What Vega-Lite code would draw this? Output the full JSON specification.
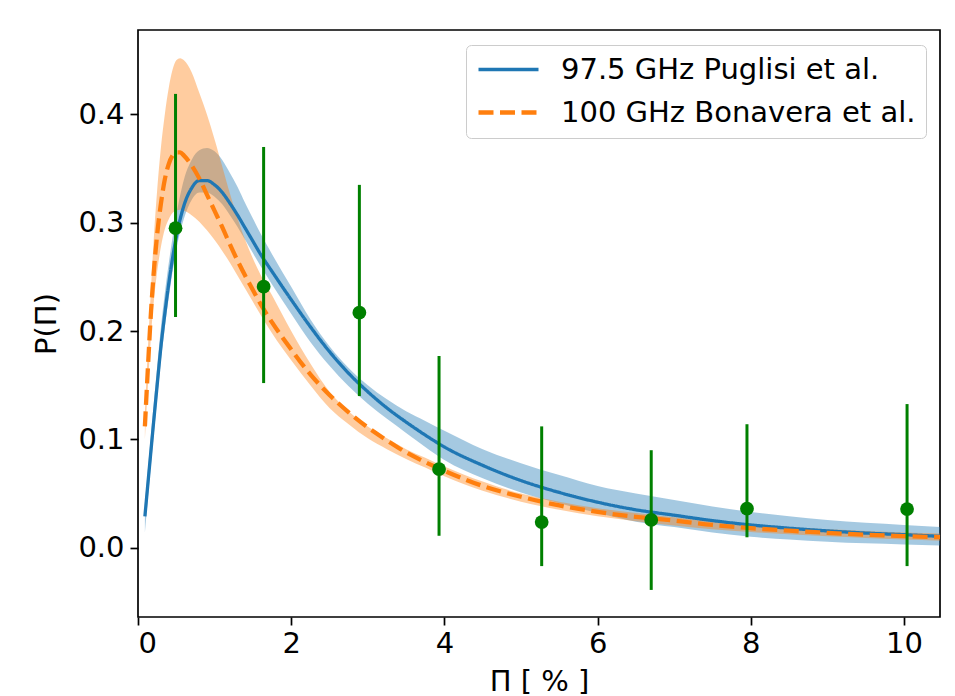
{
  "$schema": "https://vega.github.io/schema/vega-lite/v6.json",
  "width": 802,
  "height": 587,
  "autosize": {"type": "none"},
  "padding": {"left": 138, "top": 30, "right": 15, "bottom": 79},
  "background": "white",
  "config": {
    "font": "DejaVu Sans",
    "view": {"stroke": "black", "strokeWidth": 1.7},
    "axis": {
      "grid": false,
      "domain": false,
      "ticks": true,
      "tickColor": "black",
      "tickWidth": 1.7,
      "tickSize": 8,
      "labelFont": "DejaVu Sans",
      "labelFontSize": 29,
      "labelColor": "black",
      "titleFont": "DejaVu Sans",
      "titleFontSize": 29,
      "titleFontWeight": "normal",
      "titleColor": "black"
    },
    "legend": {
      "orient": "none",
      "legendX": 328,
      "legendY": 15,
      "padding": 10,
      "strokeColor": "#cccccc",
      "cornerRadius": 5,
      "fillColor": "white",
      "labelFont": "DejaVu Sans",
      "labelFontSize": 29,
      "labelColor": "black",
      "labelLimit": 0,
      "symbolType": "stroke",
      "symbolSize": 3600,
      "symbolStrokeWidth": 4,
      "clipHeight": 29,
      "rowPadding": 13,
      "labelOffset": 20,
      "title": null
    }
  },
  "datasets": {
    "curves": [
      {"model": "97.5 GHz Puglisi et al.", "x": 0.09, "y": 0.029, "lo": 0.014, "hi": 0.041},
      {"model": "97.5 GHz Puglisi et al.", "x": 0.15, "y": 0.075, "lo": 0.062, "hi": 0.089},
      {"model": "97.5 GHz Puglisi et al.", "x": 0.2, "y": 0.113, "lo": 0.100, "hi": 0.129},
      {"model": "97.5 GHz Puglisi et al.", "x": 0.25, "y": 0.150, "lo": 0.137, "hi": 0.167},
      {"model": "97.5 GHz Puglisi et al.", "x": 0.3, "y": 0.186, "lo": 0.173, "hi": 0.204},
      {"model": "97.5 GHz Puglisi et al.", "x": 0.35, "y": 0.216, "lo": 0.203, "hi": 0.235},
      {"model": "97.5 GHz Puglisi et al.", "x": 0.4, "y": 0.243, "lo": 0.230, "hi": 0.262},
      {"model": "97.5 GHz Puglisi et al.", "x": 0.5, "y": 0.287, "lo": 0.275, "hi": 0.307},
      {"model": "97.5 GHz Puglisi et al.", "x": 0.6, "y": 0.316, "lo": 0.304, "hi": 0.340},
      {"model": "97.5 GHz Puglisi et al.", "x": 0.7, "y": 0.332, "lo": 0.321, "hi": 0.358},
      {"model": "97.5 GHz Puglisi et al.", "x": 0.8, "y": 0.339, "lo": 0.328, "hi": 0.367},
      {"model": "97.5 GHz Puglisi et al.", "x": 0.9, "y": 0.339, "lo": 0.328, "hi": 0.369},
      {"model": "97.5 GHz Puglisi et al.", "x": 1.0, "y": 0.335, "lo": 0.324, "hi": 0.366},
      {"model": "97.5 GHz Puglisi et al.", "x": 1.1, "y": 0.328, "lo": 0.317, "hi": 0.358},
      {"model": "97.5 GHz Puglisi et al.", "x": 1.2, "y": 0.318, "lo": 0.307, "hi": 0.346},
      {"model": "97.5 GHz Puglisi et al.", "x": 1.3, "y": 0.307, "lo": 0.296, "hi": 0.333},
      {"model": "97.5 GHz Puglisi et al.", "x": 1.4, "y": 0.295, "lo": 0.284, "hi": 0.318},
      {"model": "97.5 GHz Puglisi et al.", "x": 1.5, "y": 0.283, "lo": 0.272, "hi": 0.304},
      {"model": "97.5 GHz Puglisi et al.", "x": 1.6, "y": 0.271, "lo": 0.260, "hi": 0.290},
      {"model": "97.5 GHz Puglisi et al.", "x": 1.75, "y": 0.255, "lo": 0.243, "hi": 0.271},
      {"model": "97.5 GHz Puglisi et al.", "x": 2.0, "y": 0.229, "lo": 0.216, "hi": 0.241},
      {"model": "97.5 GHz Puglisi et al.", "x": 2.25, "y": 0.204, "lo": 0.190, "hi": 0.211},
      {"model": "97.5 GHz Puglisi et al.", "x": 2.5, "y": 0.181, "lo": 0.168, "hi": 0.186},
      {"model": "97.5 GHz Puglisi et al.", "x": 2.75, "y": 0.161, "lo": 0.149, "hi": 0.166},
      {"model": "97.5 GHz Puglisi et al.", "x": 3.0, "y": 0.144, "lo": 0.133, "hi": 0.150},
      {"model": "97.5 GHz Puglisi et al.", "x": 3.25, "y": 0.129, "lo": 0.119, "hi": 0.137},
      {"model": "97.5 GHz Puglisi et al.", "x": 3.5, "y": 0.116, "lo": 0.106, "hi": 0.126},
      {"model": "97.5 GHz Puglisi et al.", "x": 3.75, "y": 0.104, "lo": 0.093, "hi": 0.117},
      {"model": "97.5 GHz Puglisi et al.", "x": 4.0, "y": 0.093, "lo": 0.081, "hi": 0.108},
      {"model": "97.5 GHz Puglisi et al.", "x": 4.5, "y": 0.076, "lo": 0.064, "hi": 0.091},
      {"model": "97.5 GHz Puglisi et al.", "x": 5.0, "y": 0.062, "lo": 0.051, "hi": 0.078},
      {"model": "97.5 GHz Puglisi et al.", "x": 5.5, "y": 0.051, "lo": 0.041, "hi": 0.067},
      {"model": "97.5 GHz Puglisi et al.", "x": 6.0, "y": 0.042, "lo": 0.032, "hi": 0.057},
      {"model": "97.5 GHz Puglisi et al.", "x": 6.5, "y": 0.035, "lo": 0.024, "hi": 0.050},
      {"model": "97.5 GHz Puglisi et al.", "x": 7.0, "y": 0.030, "lo": 0.019, "hi": 0.044},
      {"model": "97.5 GHz Puglisi et al.", "x": 7.5, "y": 0.025, "lo": 0.014, "hi": 0.038},
      {"model": "97.5 GHz Puglisi et al.", "x": 8.0, "y": 0.021, "lo": 0.010, "hi": 0.033},
      {"model": "97.5 GHz Puglisi et al.", "x": 8.5, "y": 0.018, "lo": 0.0075, "hi": 0.029},
      {"model": "97.5 GHz Puglisi et al.", "x": 9.0, "y": 0.0155, "lo": 0.0055, "hi": 0.0255},
      {"model": "97.5 GHz Puglisi et al.", "x": 9.5, "y": 0.0135, "lo": 0.004, "hi": 0.023},
      {"model": "97.5 GHz Puglisi et al.", "x": 10.0, "y": 0.012, "lo": 0.003, "hi": 0.021},
      {"model": "97.5 GHz Puglisi et al.", "x": 10.47, "y": 0.0105, "lo": 0.002, "hi": 0.019},
      {"model": "100 GHz Bonavera et al.", "x": 0.09, "y": 0.112, "lo": 0.100, "hi": 0.125},
      {"model": "100 GHz Bonavera et al.", "x": 0.13, "y": 0.167, "lo": 0.150, "hi": 0.185},
      {"model": "100 GHz Bonavera et al.", "x": 0.17, "y": 0.218, "lo": 0.196, "hi": 0.240},
      {"model": "100 GHz Bonavera et al.", "x": 0.21, "y": 0.258, "lo": 0.230, "hi": 0.290},
      {"model": "100 GHz Bonavera et al.", "x": 0.25, "y": 0.289, "lo": 0.255, "hi": 0.330},
      {"model": "100 GHz Bonavera et al.", "x": 0.3, "y": 0.318, "lo": 0.278, "hi": 0.370},
      {"model": "100 GHz Bonavera et al.", "x": 0.35, "y": 0.340, "lo": 0.294, "hi": 0.400},
      {"model": "100 GHz Bonavera et al.", "x": 0.4, "y": 0.354, "lo": 0.303, "hi": 0.424},
      {"model": "100 GHz Bonavera et al.", "x": 0.45, "y": 0.362, "lo": 0.309, "hi": 0.441},
      {"model": "100 GHz Bonavera et al.", "x": 0.5, "y": 0.365, "lo": 0.311, "hi": 0.450},
      {"model": "100 GHz Bonavera et al.", "x": 0.55, "y": 0.365, "lo": 0.312, "hi": 0.452},
      {"model": "100 GHz Bonavera et al.", "x": 0.6, "y": 0.362, "lo": 0.311, "hi": 0.450},
      {"model": "100 GHz Bonavera et al.", "x": 0.7, "y": 0.353, "lo": 0.307, "hi": 0.439},
      {"model": "100 GHz Bonavera et al.", "x": 0.8, "y": 0.341, "lo": 0.301, "hi": 0.420},
      {"model": "100 GHz Bonavera et al.", "x": 0.9, "y": 0.326, "lo": 0.293, "hi": 0.400},
      {"model": "100 GHz Bonavera et al.", "x": 1.0, "y": 0.311, "lo": 0.284, "hi": 0.377},
      {"model": "100 GHz Bonavera et al.", "x": 1.1, "y": 0.296, "lo": 0.274, "hi": 0.352},
      {"model": "100 GHz Bonavera et al.", "x": 1.2, "y": 0.280, "lo": 0.263, "hi": 0.327},
      {"model": "100 GHz Bonavera et al.", "x": 1.3, "y": 0.265, "lo": 0.251, "hi": 0.304},
      {"model": "100 GHz Bonavera et al.", "x": 1.4, "y": 0.251, "lo": 0.239, "hi": 0.284},
      {"model": "100 GHz Bonavera et al.", "x": 1.5, "y": 0.238, "lo": 0.227, "hi": 0.267},
      {"model": "100 GHz Bonavera et al.", "x": 1.6, "y": 0.225, "lo": 0.215, "hi": 0.252},
      {"model": "100 GHz Bonavera et al.", "x": 1.75, "y": 0.208, "lo": 0.198, "hi": 0.233},
      {"model": "100 GHz Bonavera et al.", "x": 2.0, "y": 0.183, "lo": 0.173, "hi": 0.200},
      {"model": "100 GHz Bonavera et al.", "x": 2.25, "y": 0.160, "lo": 0.150, "hi": 0.170},
      {"model": "100 GHz Bonavera et al.", "x": 2.5, "y": 0.141, "lo": 0.129, "hi": 0.144},
      {"model": "100 GHz Bonavera et al.", "x": 2.75, "y": 0.125, "lo": 0.114, "hi": 0.126},
      {"model": "100 GHz Bonavera et al.", "x": 3.0, "y": 0.111, "lo": 0.101, "hi": 0.112},
      {"model": "100 GHz Bonavera et al.", "x": 3.25, "y": 0.099, "lo": 0.091, "hi": 0.101},
      {"model": "100 GHz Bonavera et al.", "x": 3.5, "y": 0.088, "lo": 0.082, "hi": 0.091},
      {"model": "100 GHz Bonavera et al.", "x": 3.75, "y": 0.079, "lo": 0.074, "hi": 0.083},
      {"model": "100 GHz Bonavera et al.", "x": 4.0, "y": 0.071, "lo": 0.066, "hi": 0.075},
      {"model": "100 GHz Bonavera et al.", "x": 4.5, "y": 0.057, "lo": 0.0525, "hi": 0.061},
      {"model": "100 GHz Bonavera et al.", "x": 5.0, "y": 0.047, "lo": 0.0425, "hi": 0.050},
      {"model": "100 GHz Bonavera et al.", "x": 5.5, "y": 0.039, "lo": 0.035, "hi": 0.0425},
      {"model": "100 GHz Bonavera et al.", "x": 6.0, "y": 0.033, "lo": 0.029, "hi": 0.0365},
      {"model": "100 GHz Bonavera et al.", "x": 6.5, "y": 0.0285, "lo": 0.0245, "hi": 0.032},
      {"model": "100 GHz Bonavera et al.", "x": 7.0, "y": 0.025, "lo": 0.0205, "hi": 0.028},
      {"model": "100 GHz Bonavera et al.", "x": 7.5, "y": 0.021, "lo": 0.017, "hi": 0.0245},
      {"model": "100 GHz Bonavera et al.", "x": 8.0, "y": 0.018, "lo": 0.0145, "hi": 0.0215},
      {"model": "100 GHz Bonavera et al.", "x": 8.5, "y": 0.0157, "lo": 0.0125, "hi": 0.019},
      {"model": "100 GHz Bonavera et al.", "x": 9.0, "y": 0.0137, "lo": 0.0105, "hi": 0.017},
      {"model": "100 GHz Bonavera et al.", "x": 9.5, "y": 0.012, "lo": 0.009, "hi": 0.0155},
      {"model": "100 GHz Bonavera et al.", "x": 10.0, "y": 0.0107, "lo": 0.0075, "hi": 0.014},
      {"model": "100 GHz Bonavera et al.", "x": 10.47, "y": 0.0097, "lo": 0.0065, "hi": 0.013}
    ],
    "obs": [
      {"x": 0.49, "y": 0.295, "lo": 0.213, "hi": 0.419},
      {"x": 1.64, "y": 0.241, "lo": 0.152, "hi": 0.370},
      {"x": 2.89, "y": 0.217, "lo": 0.140, "hi": 0.335},
      {"x": 3.93, "y": 0.0726, "lo": 0.011, "hi": 0.177},
      {"x": 5.27, "y": 0.0237, "lo": -0.017, "hi": 0.112},
      {"x": 6.70, "y": 0.0256, "lo": -0.039, "hi": 0.090},
      {"x": 7.95, "y": 0.036, "lo": 0.0096, "hi": 0.114},
      {"x": 10.04, "y": 0.0357, "lo": -0.017, "hi": 0.1326}
    ]
  },
  "encoding": {
    "x": {
      "field": "x",
      "type": "quantitative",
      "scale": {"domain": [0, 10.47], "nice": false, "zero": false},
      "axis": {"values": [0, 2, 4, 6, 8, 10], "format": "d", "title": "Π [ % ]", "labelPadding": 4, "titlePadding": 9}
    }
  },
  "layer": [
    {
      "data": {"name": "curves"},
      "transform": [{"filter": "datum.model === '97.5 GHz Puglisi et al.'"}],
      "mark": {"type": "area", "color": "#1f77b4", "opacity": 0.4, "interpolate": "monotone"},
      "encoding": {
        "y": {
          "field": "lo",
          "type": "quantitative",
          "scale": {"domain": [-0.064, 0.478], "nice": false, "zero": false},
          "axis": {"values": [0, 0.1, 0.2, 0.3, 0.4], "format": ".1f", "title": "P(Π)", "labelPadding": 6, "titlePadding": 16}
        },
        "y2": {"field": "hi"}
      }
    },
    {
      "data": {"name": "curves"},
      "transform": [{"filter": "datum.model === '100 GHz Bonavera et al.'"}],
      "mark": {"type": "area", "color": "#ff7f0e", "opacity": 0.4, "interpolate": "monotone"},
      "encoding": {
        "y": {"field": "lo", "type": "quantitative"},
        "y2": {"field": "hi"}
      }
    },
    {
      "data": {"name": "curves"},
      "mark": {"type": "line", "interpolate": "monotone"},
      "encoding": {
        "y": {"field": "y", "type": "quantitative"},
        "color": {
          "field": "model",
          "type": "nominal",
          "scale": {"domain": ["97.5 GHz Puglisi et al.", "100 GHz Bonavera et al."], "range": ["#1f77b4", "#ff7f0e"]},
          "legend": {"title": null}
        },
        "strokeDash": {
          "field": "model",
          "type": "nominal",
          "scale": {"domain": ["97.5 GHz Puglisi et al.", "100 GHz Bonavera et al."], "range": [[1, 0], [15, 6.5]]},
          "legend": {"title": null}
        },
        "strokeWidth": {
          "field": "model",
          "type": "nominal",
          "scale": {"domain": ["97.5 GHz Puglisi et al.", "100 GHz Bonavera et al."], "range": [3.3, 4.3]},
          "legend": {"title": null}
        }
      }
    },
    {
      "data": {"name": "obs"},
      "mark": {"type": "rule", "color": "green", "strokeWidth": 3},
      "encoding": {
        "y": {"field": "lo", "type": "quantitative"},
        "y2": {"field": "hi"}
      }
    },
    {
      "data": {"name": "obs"},
      "mark": {"type": "point", "shape": "circle", "filled": true, "color": "green", "opacity": 1, "size": 190},
      "encoding": {
        "y": {"field": "y", "type": "quantitative"}
      }
    }
  ]
}
